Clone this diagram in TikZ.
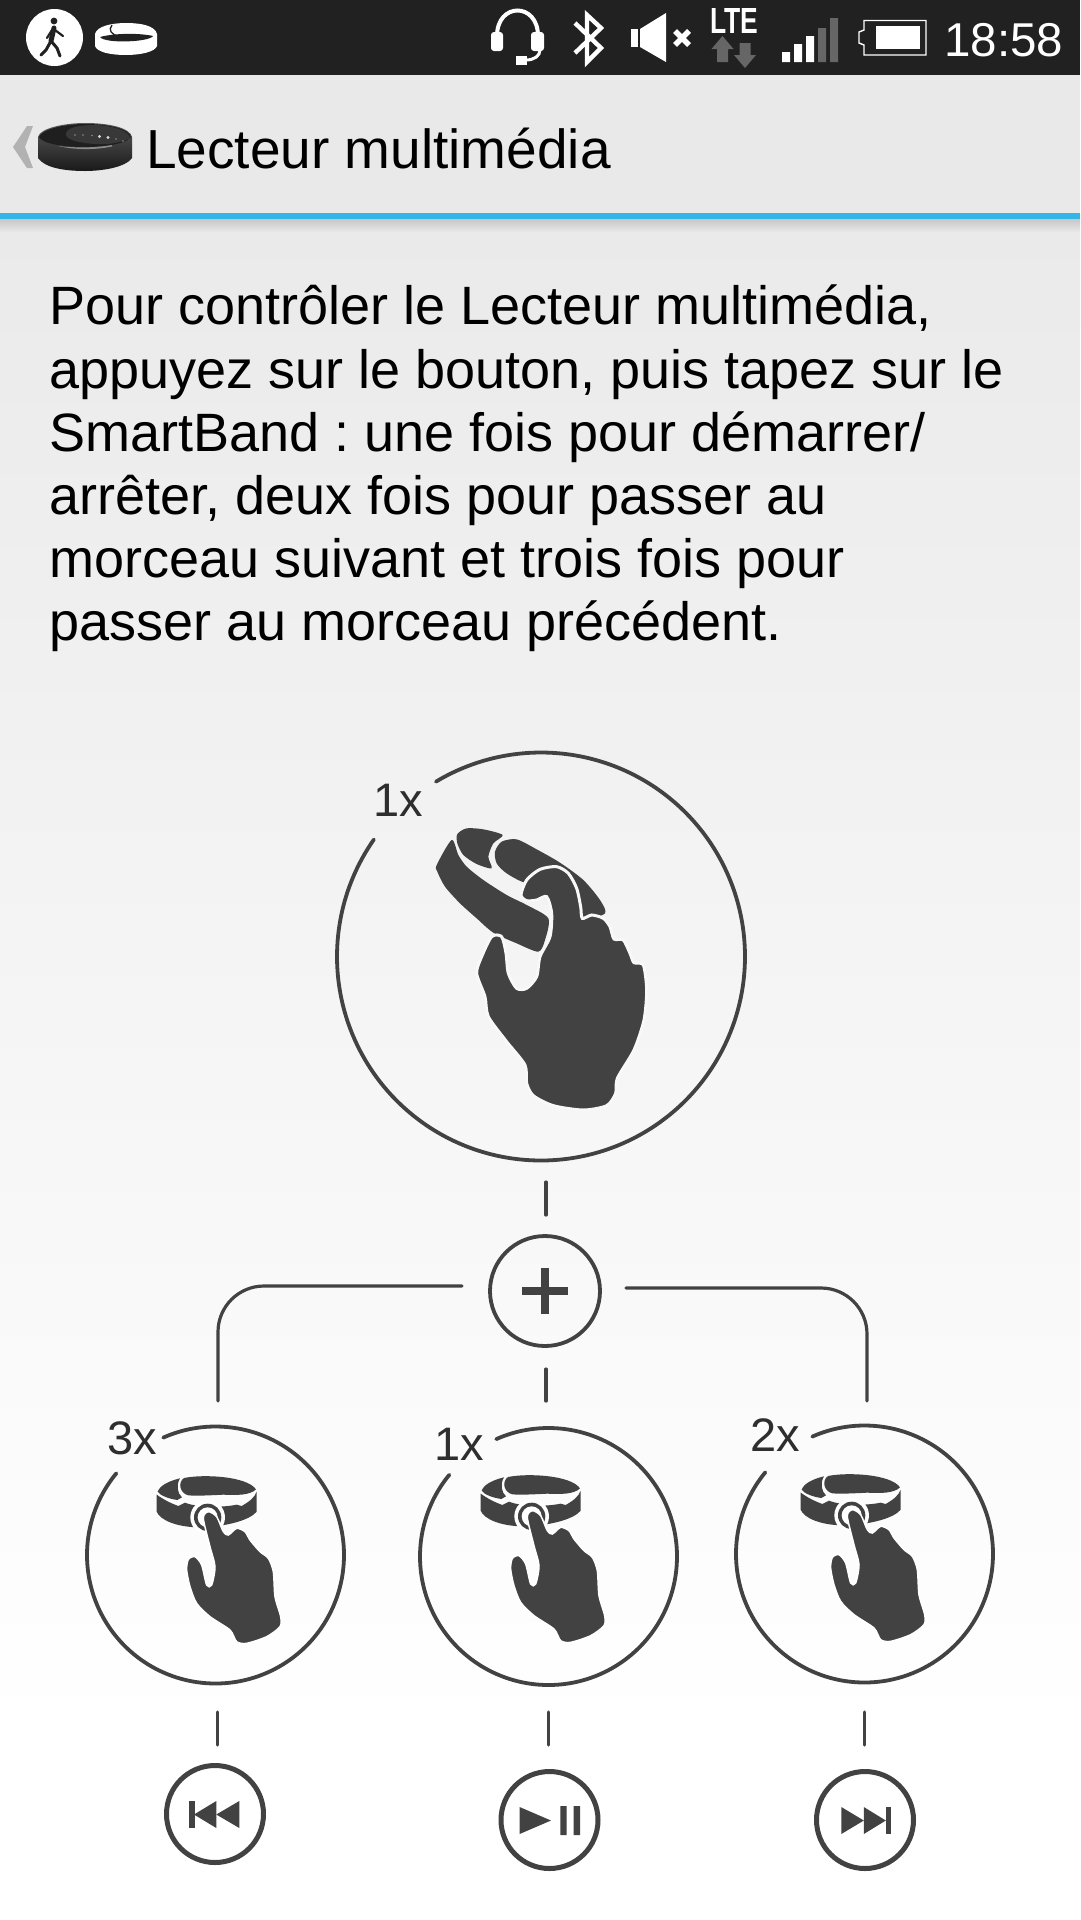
\documentclass[tikz,border=0pt]{standalone}
\usepackage{fontspec}
\setmainfont{Liberation Sans}
\usetikzlibrary{calc}
\definecolor{ink}{HTML}{424242}
\definecolor{barbg}{HTML}{212121}
\definecolor{titlebg}{HTML}{E9E9E9}
\definecolor{holo}{HTML}{33B5E5}
\definecolor{dim}{HTML}{666666}
\tikzset{
  ring/.style={draw=ink,line width=3.8pt,fill=none},
  linkline/.style={draw=ink,line width=3.2pt,line cap=round},
  countlabel/.style={text=ink!70!black,inner sep=0pt,anchor=base west,font=\fontsize{47}{47}\selectfont},
  softshape/.style={fill=ink,smooth cycle,tension=0.45},
  btnring/.style={circle,draw=ink,line width=5pt,minimum size=97pt,inner sep=0pt},
  hiddenring/.style={circle,draw=none,inner sep=0pt}
}
% ring with a gap (math angles, y up)
\newcommand{\gapring}[5]{\draw[ring,line cap=round] plot[domain=#5:{#4+360},samples=160,smooth] ({#1+#3*cos(\x)},{#2-#3*sin(\x)});}
\newcommand{\smallhand}[2]{%
\begin{scope}[shift={(#1,#2)},x=0.33333pt,y=-0.33333pt]
 \fill[ink] (290,284) .. controls (320,305) and (340,312) .. (355,318) -- (375,308) .. controls (410,322) and (480,324) .. (530,314) -- (545,318) .. controls (565,307) and (585,292) .. (590,275) -- (590,335) .. controls (570,360) and (500,380) .. (420,382) .. controls (350,382) and (300,360) .. (290,335) -- cycle;
 \fill[ink] (372,234) .. controls (430,222) and (560,228) .. (588,268) .. controls (570,286) and (530,286) .. (490,284) .. controls (450,286) and (410,288) .. (385,286) .. controls (360,280) and (352,248) .. (372,234) -- cycle;
 \fill[ink] (293,275) .. controls (300,255) and (330,242) .. (360,235) .. controls (348,255) and (352,280) .. (366,292) -- (352,300) .. controls (325,296) and (300,286) .. (293,275) -- cycle;
 \fill[white] (443,352) circle (52);
 \fill[ink] (443,352) circle (41);
 \fill[white] (443,352) circle (30);
 \draw[softshape,draw=white,line width=1.5pt] plot coordinates {(430,355)(445,335)(470,350)(490,395)(505,405)(530,385)(555,395)(570,420)(600,455)(625,475)(640,515)(645,590)(662,650)(660,680)(620,710)(560,730)(530,725)(510,690)(450,650)(410,610)(390,560)(380,510)(385,478)(405,470)(425,495)(440,555)(455,555)(465,500)(450,440)};
\end{scope}}
\begin{document}
\begin{tikzpicture}[x=1pt,y=-1pt]
\useasboundingbox (0,0) rectangle (1080,1920);
% backgrounds
\fill[white] (0,0) rectangle (1080,1920);
\shade[top color=titlebg!95!white,bottom color=white] (0,230) rectangle (1080,1730);
\fill[barbg] (0,0) rectangle (1080,75);
\fill[titlebg] (0,75) rectangle (1080,213);
\shade[top color=black!22,bottom color=titlebg] (0,219) rectangle (1080,232);
\fill[holo] (0,213) rectangle (1080,219);
% status bar, left
\fill[white] (54.5,37.5) circle (28.5);
\fill[barbg] (54,21) circle (3.4);
\draw[barbg,line width=5pt,line cap=round] (54,28) -- (51,41);
\draw[barbg,line width=3pt,line cap=round,line join=round] (51,41) -- (46,50) -- (41,55);
\draw[barbg,line width=3pt,line cap=round,line join=round] (51,41) -- (57,48) -- (60,56);
\draw[barbg,line width=2.2pt,line cap=round] (52,30) -- (47,38);
\draw[barbg,line width=2.2pt,line cap=round] (55,30) -- (63,36);
\fill[white] (95,34) .. controls (97,26) and (112,23) .. (126,23) .. controls (142,23) and (155,26) .. (157,34) -- (157,46) .. controls (155,52) and (140,55) .. (126,55) .. controls (110,55) and (97,52) .. (95,46) -- cycle;
\fill[barbg] (100,37) .. controls (115,33) and (140,33) .. (153,36) .. controls (150,42) and (105,44) .. (100,37) -- cycle;
\draw[barbg,line width=1.3pt] (112,25) .. controls (108,30) and (111,34) .. (119,37);
% status bar, right
\draw[white,line width=4pt] (497,36) .. controls (497,2) and (538,2) .. (538,36);
\fill[white,rounded corners=3pt] (491,32) rectangle (503,51);
\fill[white,rounded corners=3pt] (531,32) rectangle (544,51);
\draw[white,line width=3pt] (540,50) .. controls (540,56) and (534,60) .. (526,60);
\fill[white] (516,56) rectangle (527,65);
\draw[white,line width=4.4pt,line join=miter] (575,23) -- (601,48) -- (587,62) -- (587,15) -- (601,28) -- (575,53);
\fill[white] (631,29) rectangle (638,47);
\fill[white] (640,29) -- (666,13) -- (666,62) -- (640,47) -- cycle;
\draw[white,line width=5.5pt] (675,31) -- (689,45) (689,31) -- (675,45);
\node[name=lte,text=white,inner sep=0pt,anchor=base,font=\bfseries\fontsize{32}{32}\selectfont] at (734,33) {\resizebox{48pt}{25pt}{LTE}};
\fill[dim] (722.5,36) -- (733.5,49) -- (728,49) -- (728,62) -- (717,62) -- (717,49) -- (711.5,49) -- cycle;
\fill[dim] (745,68) -- (756,55) -- (750.5,55) -- (750.5,43) -- (739.5,43) -- (739.5,55) -- (734,55) -- cycle;
\fill[white] (782,52) rectangle (790,62) (794,44) rectangle (802,62) (806,36) rectangle (814,62);
\fill[dim] (818,28) rectangle (826,62) (830,18) rectangle (838,62);
\draw[white,line width=1.4pt] (864,20.5) -- (926,20.5) -- (926,55) -- (864,55) -- (864,45) -- (859,43) -- (859,32) -- (864,30) -- cycle;
\fill[white] (876,26) rectangle (920,49);
\node[name=clock,text=white,inner sep=0pt,anchor=base west,font=\fontsize{47.5}{47.5}\selectfont] at (944,56) {18:58};
% title bar
\fill[black!30] (33,126) -- (25,147) -- (33,168) -- (27,168) -- (13,147) -- (27,126) -- cycle;
\shade[top color=black!65,bottom color=black!90] (38,137) .. controls (40,128) and (65,123) .. (85,123) .. controls (110,123) and (130,128) .. (132,137) -- (132,158) .. controls (125,168) and (100,171) .. (85,171) .. controls (65,171) and (45,168) .. (38,158) -- cycle;
\fill[black!88] (39,137) .. controls (42,129) and (65,124) .. (85,124) .. controls (110,124) and (129,129) .. (131,137) .. controls (125,145) and (100,147) .. (85,147) .. controls (65,147) and (42,144) .. (39,137) -- cycle;
\fill[black!78] (66,133) .. controls (68,126) and (85,125) .. (95,125) .. controls (115,126) and (129,131) .. (130,138) .. controls (122,143) and (105,145) .. (95,144) .. controls (80,143) and (64,140) .. (66,133) -- cycle;
\fill[black!45] (58,146) .. controls (75,148) and (95,148) .. (112,145) -- (112,146.5) .. controls (95,150) and (75,150) .. (58,146) -- cycle;
\fill[white!85!black] (99.5,136.5) circle (1.6) (108,137.5) circle (1.6);
\fill[black!45] (75,135) circle (0.8) (83,135) circle (0.8) (92,135.5) circle (0.8) (116,139) circle (0.8) (123,141) circle (0.8);
\node[name=title,text=black,inner sep=0pt,anchor=base west,font=\fontsize{55}{55}\selectfont] at (146,168) {Lecteur multimédia};
% body text
\node[name=body,text=black,inner sep=0pt,anchor=north west,align=left,font=\fontsize{54}{63.1}\selectfont\frenchspacing] at (49,285) {Pour contrôler le Lecteur multimédia,\\appuyez sur le bouton, puis tapez sur le\\SmartBand : une fois pour démarrer/\\arrêter, deux fois pour passer au\\morceau suivant et trois fois pour\\passer au morceau précédent.};
% main circle
\node[hiddenring,name=main,minimum size=408pt] at (541,956.5) {};
\gapring{541}{956.5}{204}{121}{145}
\node[countlabel,name=lblmain] at (373,816) {1x};
% main hand
\begin{scope}[shift={(320,740)},x=0.33333pt,y=-0.33333pt]
 \draw[softshape,draw=none] plot coordinates {(350,375)(352,395)(375,440)(420,490)(470,535)(520,578)(590,610)(655,635)(675,600)(685,535)(620,495)(560,465)(490,420)(440,380)(415,345)(395,300)};
 \draw[softshape,draw=none] plot coordinates {(412,282)(440,265)(490,268)(548,285)(520,310)(505,350)(515,385)(470,372)(430,345)(412,310)};
 \draw[softshape,draw=none] plot coordinates {(525,335)(545,305)(590,298)(650,328)(720,368)(790,420)(840,480)(855,520)(790,535)(740,450)(620,430)(560,400)(530,370)};
 \draw[softshape,draw=titlebg!30!white,line width=3pt] plot coordinates {(603,465)(620,420)(660,388)(710,380)(745,400)(770,445)(782,500)(787,535)(815,525)(850,535)(870,560)(882,597)(910,600)(930,640)(942,668)(970,675)(980,750)(972,840)(942,930)(892,1015)(887,1060)(860,1097)(790,1110)(700,1097)(640,1067)(620,1030)(615,975)(560,905)(505,830)(495,770)(470,700)(485,650)(515,590)(545,590)(558,640)(565,700)(590,745)(620,745)(650,710)(660,650)(690,590)(695,520)(680,470)(650,480)(620,482)};
\end{scope}
% plus node
\node[circle,draw=ink,line width=3.8pt,minimum size=110pt,inner sep=0pt,name=plus] at (545,1291) {};
\draw[ink,line width=8pt] (522,1291) -- (568,1291) (545,1268) -- (545,1314);
% connectors
\coordinate (stemAtop) at (546,1182);
\coordinate (stemAbot) at (546,1215);
\draw[linkline] (stemAtop) -- (stemAbot);
\coordinate (stemBtop) at (546,1369);
\coordinate (stemBbot) at (546,1401);
\draw[linkline] (stemBtop) -- (stemBbot);
\coordinate (leftStart) at (462,1286);
\coordinate (leftEnd) at (218,1401);
\draw[linkline,rounded corners=46pt] (leftStart) -| (leftEnd);
\coordinate (rightStart) at (626,1288);
\coordinate (rightEnd) at (867,1401);
\draw[linkline,rounded corners=46pt] (rightStart) -| (rightEnd);
% option circles
\node[hiddenring,name=optL,minimum size=257pt] at (215.5,1555) {};
\gapring{215.5}{1555}{128.5}{114}{140.5}
\node[countlabel,name=lblL] at (107,1454) {3x};
\node[hiddenring,name=optM,minimum size=257pt] at (548.5,1556.5) {};
\gapring{548.5}{1556.5}{128.5}{114}{140.5}
\node[countlabel,name=lblM] at (434,1460) {1x};
\node[hiddenring,name=optR,minimum size=257pt] at (864.5,1554) {};
\gapring{864.5}{1554}{128.5}{114}{140.5}
\node[countlabel,name=lblR] at (750,1451) {2x};
\smallhand{60}{1400}
\smallhand{384}{1399}
\smallhand{704}{1398}
% lower stems and buttons
\coordinate (downLa) at (217.5,1712);
\coordinate (downLb) at (217.5,1745);
\draw[linkline] (downLa) -- (downLb);
\coordinate (downMa) at (548.5,1712);
\coordinate (downMb) at (548.5,1745);
\draw[linkline] (downMa) -- (downMb);
\coordinate (downRa) at (864.5,1712);
\coordinate (downRb) at (864.5,1745);
\draw[linkline] (downRa) -- (downRb);
\node[btnring,name=btnL] at (215,1814) {};
\node[btnring,name=btnM] at (549.5,1820) {};
\node[btnring,name=btnR] at (865,1820) {};
\fill[ink] (189,1801) rectangle (194.5,1828);
\fill[ink] (194,1814.5) -- (216.3,1801) -- (216.3,1828) -- cycle;
\fill[ink] (216.3,1814.5) -- (239.3,1801) -- (239.3,1828) -- cycle;
\fill[ink] (519.6,1807) -- (551,1820.5) -- (519.6,1834) -- cycle;
\fill[ink] (560.4,1806) rectangle (566.7,1835) (573.5,1806) rectangle (580,1835);
\fill[ink] (841.3,1807) -- (863.8,1820.5) -- (841.3,1834) -- cycle;
\fill[ink] (863.8,1807) -- (885.8,1820.5) -- (863.8,1834) -- cycle;
\fill[ink] (885.8,1807) rectangle (891,1834);
\end{tikzpicture}
\end{document}
